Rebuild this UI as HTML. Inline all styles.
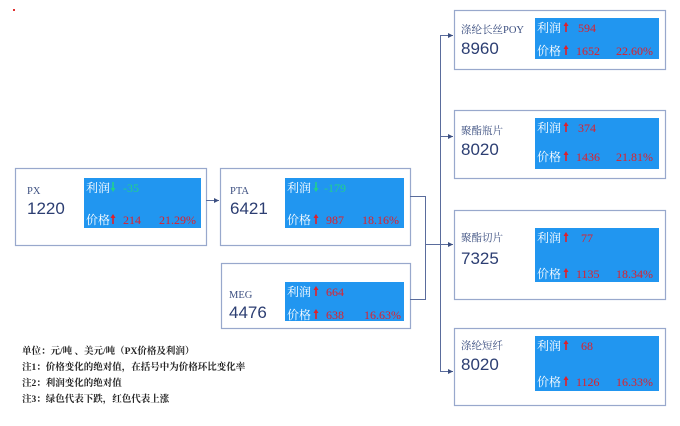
<!DOCTYPE html>
<html><head><meta charset="utf-8">
<style>
html,body{margin:0;padding:0;background:#fff;width:680px;height:426px;overflow:hidden}
svg text{font-family:"Liberation Serif","Noto Serif CJK SC",serif}
.lbl{fill:#fff;font-size:12px}
.r{fill:#e0202a;font-size:12px;font-family:"Liberation Serif",serif}
.g{fill:#22d08c;font-size:12px;font-family:"Liberation Serif",serif}
.t{fill:#3c4f80;font-size:10.5px}
.n{fill:#2c3e72;font-size:17px;font-family:"Liberation Sans",sans-serif}
.note{fill:#222;font-size:9.5px;font-weight:bold;font-family:"Liberation Serif","Noto Serif CJK SC",serif}
</style></head><body>
<svg width="680" height="426" xmlns="http://www.w3.org/2000/svg">
<defs>
<marker id="a" markerWidth="6" markerHeight="6" refX="5" refY="3" orient="auto"><path d="M0,0.5 L5,3 L0,5.5z" fill="#3c4f80"/></marker>
<path id="up" d="M-0.8,0 V-6 H-2.5 L0,-10 L2.5,-6 H0.8 V0 Z" fill="#e0202a"/>
<path id="dn" d="M-0.8,-10 V-4 H-2.5 L0,0 L2.5,-4 H0.8 V-10 Z" fill="#22d08c"/>
</defs>
<rect x="13" y="9" width="2" height="2" fill="#e03030"/>
<g fill="#fff" stroke="#98a8cc" stroke-width="1.2">
<rect x="15.5" y="168.5" width="191" height="77"/>
<rect x="220.5" y="168.5" width="190" height="77"/>
<rect x="221.5" y="263.5" width="189" height="65"/>
<rect x="454.5" y="10.5" width="211" height="59"/>
<rect x="454.5" y="110.5" width="211" height="68"/>
<rect x="454.5" y="210.5" width="211" height="89"/>
<rect x="454.5" y="328.5" width="211" height="77"/>
</g>
<g fill="#2196f0">
<rect x="84" y="178" width="117" height="50"/>
<rect x="285" y="178" width="119" height="50"/>
<rect x="285" y="282" width="119" height="39"/>
<rect x="535" y="18" width="124" height="41"/>
<rect x="535" y="118" width="124" height="51"/>
<rect x="535" y="228" width="124" height="54"/>
<rect x="535" y="336" width="124" height="55"/>
</g>
<g fill="none" stroke="#5a6c9c" stroke-width="1">
<line x1="206" y1="200.5" x2="219" y2="200.5" marker-end="url(#a)"/>
<polyline points="410,196.5 425.5,196.5 425.5,299.5 410,299.5"/>
<line x1="425" y1="244.5" x2="453" y2="244.5" marker-end="url(#a)"/>
<line x1="440.5" y1="35" x2="440.5" y2="371"/>
<line x1="440" y1="35.5" x2="453" y2="35.5" marker-end="url(#a)"/>
<line x1="440" y1="136.5" x2="453" y2="136.5" marker-end="url(#a)"/>
<line x1="440" y1="371.5" x2="453" y2="371.5" marker-end="url(#a)"/>
</g>
<!-- arrows -->
<use href="#dn" x="113" y="192"/><use href="#up" x="113" y="224"/>
<use href="#dn" x="316" y="192"/><use href="#up" x="316" y="224"/>
<use href="#up" x="316" y="296"/><use href="#up" x="316" y="319"/>
<use href="#up" x="566" y="32"/><use href="#up" x="566" y="55"/>
<use href="#up" x="566" y="132"/><use href="#up" x="566" y="161"/>
<use href="#up" x="566" y="242"/><use href="#up" x="566" y="278"/>
<use href="#up" x="566" y="350"/><use href="#up" x="566" y="386"/>
<!-- PX -->
<text class="t" x="27" y="194">PX</text><text class="n" x="27" y="214">1220</text>
<text class="lbl" x="86" y="192">利润</text><text class="g" x="123" y="192">-35</text>
<text class="lbl" x="86" y="224">价格</text><text class="r" x="123" y="224">214</text><text class="r" x="159" y="224">21.29%</text>
<!-- PTA -->
<text class="t" x="230" y="194">PTA</text><text class="n" x="230" y="214">6421</text>
<text class="lbl" x="287" y="192">利润</text><text class="g" x="324" y="192">-179</text>
<text class="lbl" x="287" y="224">价格</text><text class="r" x="326" y="224">987</text><text class="r" x="362" y="224">18.16%</text>
<!-- MEG -->
<text class="t" x="229" y="298">MEG</text><text class="n" x="229" y="318">4476</text>
<text class="lbl" x="287" y="296">利润</text><text class="r" x="326" y="296">664</text>
<text class="lbl" x="287" y="319">价格</text><text class="r" x="326" y="319">638</text><text class="r" x="364" y="319">16.63%</text>
<!-- POY -->
<text class="t" x="461" y="33">涤纶长丝POY</text><text class="n" x="461" y="54">8960</text>
<text class="lbl" x="537" y="32">利润</text><text class="r" x="578" y="32">594</text>
<text class="lbl" x="537" y="55">价格</text><text class="r" x="576" y="55">1652</text><text class="r" x="616" y="55">22.60%</text>
<!-- 瓶片 -->
<text class="t" x="461" y="134">聚酯瓶片</text><text class="n" x="461" y="155">8020</text>
<text class="lbl" x="537" y="132">利润</text><text class="r" x="578" y="132">374</text>
<text class="lbl" x="537" y="161">价格</text><text class="r" x="576" y="161">1436</text><text class="r" x="616" y="161">21.81%</text>
<!-- 切片 -->
<text class="t" x="461" y="241">聚酯切片</text><text class="n" x="461" y="264">7325</text>
<text class="lbl" x="537" y="242">利润</text><text class="r" x="581" y="242">77</text>
<text class="lbl" x="537" y="278">价格</text><text class="r" x="576" y="278">1135</text><text class="r" x="616" y="278">18.34%</text>
<!-- 短纤 -->
<text class="t" x="461" y="349">涤纶短纤</text><text class="n" x="461" y="370">8020</text>
<text class="lbl" x="537" y="350">利润</text><text class="r" x="581" y="350">68</text>
<text class="lbl" x="537" y="386">价格</text><text class="r" x="576" y="386">1126</text><text class="r" x="616" y="386">16.33%</text>
<!-- notes -->
<text class="note" x="22" y="354">单位：元/吨 、美元/吨（PX价格及利润）</text>
<text class="note" x="22" y="370">注1：价格变化的绝对值，在括号中为价格环比变化率</text>
<text class="note" x="22" y="386">注2：利润变化的绝对值</text>
<text class="note" x="22" y="402">注3：绿色代表下跌，红色代表上涨</text>
</svg>
</body></html>
